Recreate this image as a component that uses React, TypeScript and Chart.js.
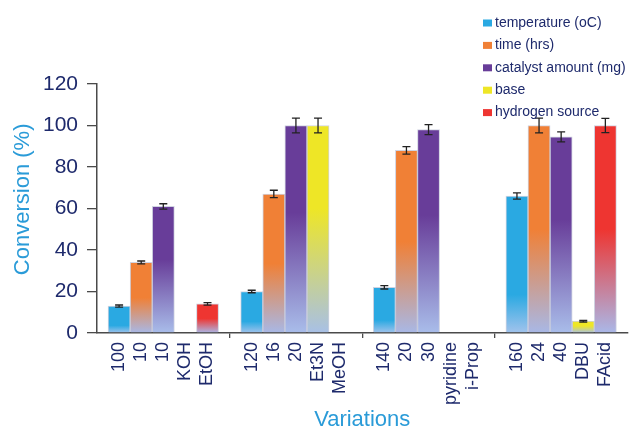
import React, { useEffect, useRef } from "react";
import { Chart, registerables } from "chart.js";

Chart.register(...registerables);

// ---- data ----
const temperatureLabels = ["100", "120", "140", "160"];
const timeLabels = ["10", "16", "20", "24"];
const catalystLabels = ["10", "20", "30", "40"];
const baseLabels = ["KOH", "Et3N", "pyridine", "DBU"];
const hydrogenLabels = ["EtOH", "MeOH", "i-Prop", "FAcid"];

const temperatureValues: (number | null)[] = [13, 20, 22, 66];
const timeValues: (number | null)[] = [34, 67, 88, 100];
const catalystValues: (number | null)[] = [61, 100, 98, 94.5];
const baseValues: (number | null)[] = [null, 100, null, 5.7];
const hydrogenValues: (number | null)[] = [14, null, null, 100];

const temperatureErrors: (number | null)[] = [0.5, 0.6, 0.8, 1.5];
const timeErrors: (number | null)[] = [0.7, 1.8, 1.8, 3.6];
const catalystErrors: (number | null)[] = [1.3, 3.6, 2.4, 2.4];
const baseErrors: (number | null)[] = [null, 3.6, null, 0.4];
const hydrogenErrors: (number | null)[] = [0.6, null, null, 3.4];

const seriesNames = [
  "temperature (oC)",
  "time (hrs)",
  "catalyst amount (mg)",
  "base",
  "hydrogen source",
];
const yTicks = [0, 20, 40, 60, 80, 100, 120];

// ---- styles ----
const FONT = "'Liberation Sans', Arial, Helvetica, sans-serif";
const NAVY = "#1E2A6C";
const TITLE_BLUE = "#2A9BD8";
const AXIS = "#4a4a4a";

const seriesStyles = [
  { color: "#2AA9E2", stops: [[0, "#2AA9E2"], [0.72, "#2AA9E2"], [1, "#A2C3EC"]] },
  { color: "#F08036", stops: [[0, "#F08036"], [0.5, "#F08036"], [1, "#A8B8E6"]] },
  { color: "#683D99", stops: [[0, "#683D99"], [0.42, "#683D99"], [1, "#A9BDEA"]] },
  { color: "#EEE626", stops: [[0, "#EEE626"], [0.4, "#EEE626"], [1, "#A8C0E6"]] },
  { color: "#EE3531", stops: [[0, "#EE3531"], [0.5, "#EE3531"], [1, "#AAB8E8"]] },
];

const groupLabels = [temperatureLabels, timeLabels, catalystLabels, baseLabels, hydrogenLabels];
const groupValues = [temperatureValues, timeValues, catalystValues, baseValues, hydrogenValues];
const groupErrors = [temperatureErrors, timeErrors, catalystErrors, baseErrors, hydrogenErrors];

// Build 23 categories: 4 groups of 5 with an empty spacer between groups
const nGroups = temperatureLabels.length;
const categories: string[] = [];
const seriesData: (number | null)[][] = groupValues.map(() => []);
const seriesErr: (number | null)[][] = groupValues.map(() => []);
for (let g = 0; g < nGroups; g++) {
  for (let s = 0; s < groupLabels.length; s++) {
    categories.push(groupLabels[s][g]);
    for (let k = 0; k < groupLabels.length; k++) {
      seriesData[k].push(k === s ? groupValues[s][g] : null);
      seriesErr[k].push(k === s ? groupErrors[s][g] : null);
    }
  }
  if (g < nGroups - 1) {
    categories.push("");
    for (let k = 0; k < groupLabels.length; k++) {
      seriesData[k].push(null);
      seriesErr[k].push(null);
    }
  }
}

const errorBarPlugin = {
  id: "errorBars",
  afterDatasetsDraw(chart: any) {
    const ctx = chart.ctx;
    const y = chart.scales.y;
    ctx.save();
    ctx.strokeStyle = "#222";
    ctx.lineWidth = 1.3;
    chart.data.datasets.forEach((ds: any, i: number) => {
      const meta = chart.getDatasetMeta(i);
      meta.data.forEach((el: any, j: number) => {
        const v = ds.data[j];
        const e = seriesErr[i][j];
        if (v == null || e == null) return;
        const x = el.x;
        const t = y.getPixelForValue(v + e);
        const b = y.getPixelForValue(v - e);
        ctx.beginPath();
        ctx.moveTo(x, t);
        ctx.lineTo(x, b);
        ctx.moveTo(x - 4, t);
        ctx.lineTo(x + 4, t);
        ctx.moveTo(x - 4, b);
        ctx.lineTo(x + 4, b);
        ctx.stroke();
      });
    });
    ctx.restore();
  },
};

const legendPlugin = {
  id: "customLegend",
  afterDraw(chart: any) {
    const ctx = chart.ctx;
    ctx.save();
    ctx.font = `14px ${FONT}`;
    ctx.textBaseline = "middle";
    ctx.textAlign = "left";
    seriesNames.forEach((name, i) => {
      const cy = 23 + i * 22.4;
      ctx.fillStyle = seriesStyles[i].color;
      ctx.fillRect(483, cy - 3.5, 9, 7);
      ctx.fillStyle = NAVY;
      ctx.fillText(name, 495, cy);
    });
    ctx.restore();
  },
};

export default function App() {
  const ref = useRef<HTMLCanvasElement | null>(null);

  useEffect(() => {
    if (!ref.current) return;
    const gradientFor = (i: number) => (c: any) => {
      const style = seriesStyles[i];
      const chart = c.chart;
      if (!chart.chartArea || c.raw == null) return style.color;
      const y = chart.scales.y;
      const top = y.getPixelForValue(c.raw);
      const bottom = y.getPixelForValue(0);
      if (!isFinite(top) || !isFinite(bottom) || bottom - top < 1) return style.color;
      const g = chart.ctx.createLinearGradient(0, top, 0, bottom);
      style.stops.forEach(([p, col]) => g.addColorStop(p as number, col as string));
      return g;
    };

    const chart = new Chart(ref.current, {
      type: "bar",
      data: {
        labels: categories,
        datasets: seriesNames.map((name, i) => ({
          label: name,
          data: seriesData[i],
          backgroundColor: gradientFor(i),
          borderColor: "rgba(120,130,170,0.35)",
          borderWidth: 1,
          barPercentage: 1,
          categoryPercentage: 1,
        })),
      },
      options: {
        responsive: false,
        animation: false,
        devicePixelRatio: 1,
        layout: { padding: { top: 84, right: 1, left: 0, bottom: 0 } },
        plugins: {
          legend: { display: false },
          tooltip: { enabled: false },
        },
        scales: {
          x: {
            type: "category",
            stacked: true,
            offset: true,
            afterBuildTicks: (s: any) => {
              s._startValue = -1;
              s._valueRange = categories.length + 1;
            },
            afterFit: (s: any) => {
              s.height = 98;
            },
            grid: {
              offset: false,
              drawOnChartArea: false,
              drawTicks: true,
              tickLength: 5,
              lineWidth: 1.3,
              color: (c: any) => (categories[c.index] === "" ? AXIS : "rgba(0,0,0,0)"),
            },
            border: { color: AXIS, width: 1.5 },
            ticks: {
              autoSkip: false,
              maxRotation: 90,
              minRotation: 90,
              padding: 4,
              color: NAVY,
              font: { size: 18, family: FONT },
            },
            title: {
              display: true,
              text: "Variations",
              color: TITLE_BLUE,
              font: { size: 22, family: FONT, lineHeight: 1 },
              padding: { top: 0, bottom: 0 },
            },
          },
          y: {
            min: 0,
            max: 120,
            afterBuildTicks: (s: any) => {
              s.ticks = yTicks.map((v) => ({ value: v }));
            },
            afterFit: (s: any) => {
              s.width = 97;
            },
            grid: {
              drawOnChartArea: false,
              drawTicks: true,
              tickLength: 10,
              lineWidth: 1.3,
              color: AXIS,
            },
            border: { color: AXIS, width: 1.5 },
            ticks: {
              padding: 9,
              color: NAVY,
              font: { size: 21, family: FONT },
            },
            title: {
              display: true,
              text: "   Conversion (%)",
              color: TITLE_BLUE,
              font: { size: 22, family: FONT, lineHeight: 1 },
              padding: { top: 12, bottom: 0 },
            },
          },
        },
      },
      plugins: [errorBarPlugin, legendPlugin],
    } as any);

    return () => chart.destroy();
  }, []);

  return (
    <div style={{ position: "absolute", left: 0, top: 0, width: 631, height: 431, background: "#fff" }}>
      <canvas ref={ref} width={631} height={431} style={{ display: "block" }} />
    </div>
  );
}
